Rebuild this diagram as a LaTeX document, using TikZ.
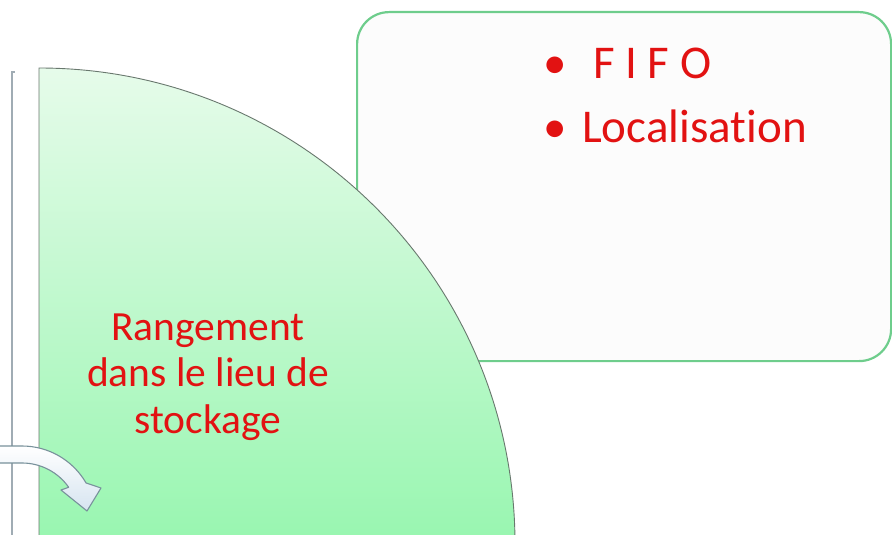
\documentclass[tikz,border=0pt]{standalone}
\usepackage{fontspec}
\setmainfont{Carlito}[Ligatures=NoCommon]
\definecolor{txtred}{RGB}{226,18,18}
\definecolor{boxline}{RGB}{110,205,140}
\definecolor{boxfill}{RGB}{252,252,252}
\definecolor{pietop}{RGB}{230,251,234}
\definecolor{piebot}{RGB}{152,246,176}
\definecolor{pieline}{RGB}{105,120,110}
\definecolor{stripline}{RGB}{160,172,180}
\definecolor{arrowline}{RGB}{120,145,155}
\definecolor{arrowfill}{RGB}{214,228,240}
\tikzset{
  boxshape/.style={draw=boxline, line width=2.2pt, fill=boxfill, rounded corners=32pt, minimum width=534pt, minimum height=349pt, anchor=north west, inner sep=0pt},
  pieshape/.style={draw=pieline, line width=0.9pt, top color=pietop, bottom color=piebot},
  arrowshape/.style={draw=arrowline, line width=1.1pt, top color=white, bottom color=arrowfill, line join=round},
  bigtxt/.style={text=txtred, font=\fontsize{47}{56}\selectfont, inner sep=0pt},
  pietxt/.style={text=txtred, font=\fontsize{41.5}{46.5}\selectfont, align=center, inner sep=0pt}
}
\begin{document}
\begin{tikzpicture}[x=1pt,y=1pt]
\useasboundingbox (0,0) rectangle (892,-535);
\clip (0,0) rectangle (892,-535);
% left strip
\fill[white] (12,-540) rectangle (40,-72);
\draw[stripline, line width=1.2pt] (12,-540) -- (12,-72) -- (15,-72);
% right box
\node[boxshape] (box) at (356,-11) {};
% quarter disc
\shade[pieshape] (39,-544) -- (39,-68) arc[start angle=90, end angle=0, radius=476] -- cycle;
\coordinate (piecenter) at (39,-544);
% curved arrow
\shade[arrowshape] (-5,-446) -- (22,-446) arc[start angle=90, end angle=30, radius=74] -- (101,-488) -- (87,-511) -- (61,-490) -- (68.7,-487.3) arc[start angle=35, end angle=90, radius=57] -- (-5,-463) -- cycle;
% texts
\node[pietxt] (pietext) at (208,-377) {Rangement\\dans le lieu de\\stockage};
\node[bigtxt, anchor=base] (b1) at (555,-78) {•};
\node[bigtxt, anchor=base west] (fifo) at (593,-78) {F I F O};
\node[bigtxt, anchor=base] (b2) at (555,-142) {•};
\node[bigtxt, anchor=base west] (loc) at (582,-142) {Localisation};
\end{tikzpicture}
\end{document}
